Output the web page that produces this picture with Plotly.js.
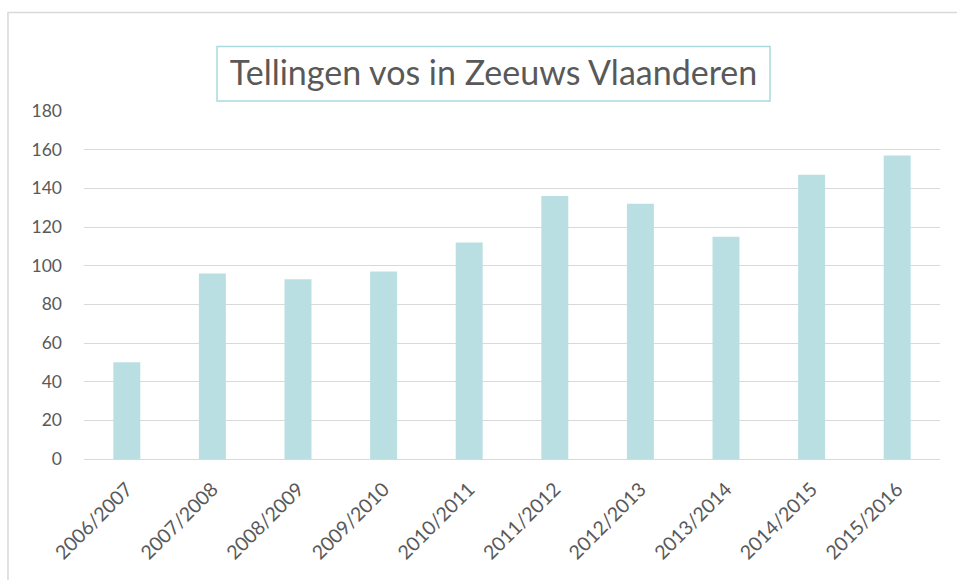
<!DOCTYPE html>
<html>
<head>
<meta charset="utf-8">
<script src="https://cdn.plot.ly/plotly-3.0.1.min.js"></script>
<style>
html,body{margin:0;padding:0;background:#fff;}
#chart{width:957px;height:580px;}
</style>
</head>
<body>
<div id="chart"></div>
<script>
const seasons = ["2006/2007","2007/2008","2008/2009","2009/2010","2010/2011","2011/2012","2012/2013","2013/2014","2014/2015","2015/2016"];
const foxCounts = [50, 96, 93, 97, 112, 136, 132, 115, 147, 157];
const yTicks = [0, 20, 40, 60, 80, 100, 120, 140, 160, 180];
const chartTitle = "Tellingen vos in Zeeuws Vlaanderen";

const FONT = "Lato, 'Open Sans', sans-serif";
const TXT = "#595959";

const trace = {
  type: "bar",
  x: seasons,
  y: foxCounts,
  marker: {color: "#b9dfe3", line: {width: 0}},
  hoverinfo: "x+y"
};

const layout = {
  width: 957,
  height: 580,
  paper_bgcolor: "#ffffff",
  plot_bgcolor: "#ffffff",
  margin: {l: 84, r: 17, t: 111, b: 121, pad: 0},
  bargap: 0.685,
  showlegend: false,
  title: {
    text: chartTitle,
    font: {family: FONT, size: 34, color: TXT},
    xref: "container", yref: "container",
    x: 0.5157, xanchor: "center",
    y: 0.874, yanchor: "middle"
  },
  xaxis: {
    type: "category",
    tickangle: -45,
    tickfont: {family: FONT, size: 19.5, color: TXT},
    showgrid: false,
    showline: false,
    zeroline: false,
    ticks: "",
    ticklabelstandoff: 14
  },
  yaxis: {
    range: [0, 180],
    tickvals: yTicks,
    tickfont: {family: FONT, size: 17.5, color: TXT},
    showgrid: true,
    gridcolor: "#d9d9d9",
    gridwidth: 1,
    zeroline: true,
    zerolinecolor: "#d9d9d9",
    zerolinewidth: 1,
    showline: false,
    ticks: "",
    ticklabelstandoff: 21
  },
  shapes: [
    {type: "rect", xref: "paper", yref: "paper",
     x0: 0.1554, x1: 0.8014, y0: 1.0284, y1: 1.1853,
     line: {color: "#a9dadd", width: 1.5}, fillcolor: "rgba(0,0,0,0)", layer: "above"},
    {type: "rect", xref: "paper", yref: "paper",
     x0: -0.0888, x1: 1.03, y0: -0.4, y1: 1.2828,
     line: {color: "#d9d9d9", width: 1.5}, fillcolor: "rgba(0,0,0,0)", layer: "below"}
  ]
};

Plotly.newPlot("chart", [trace], layout, {displayModeBar: false, staticPlot: true});
</script>
</body>
</html>
